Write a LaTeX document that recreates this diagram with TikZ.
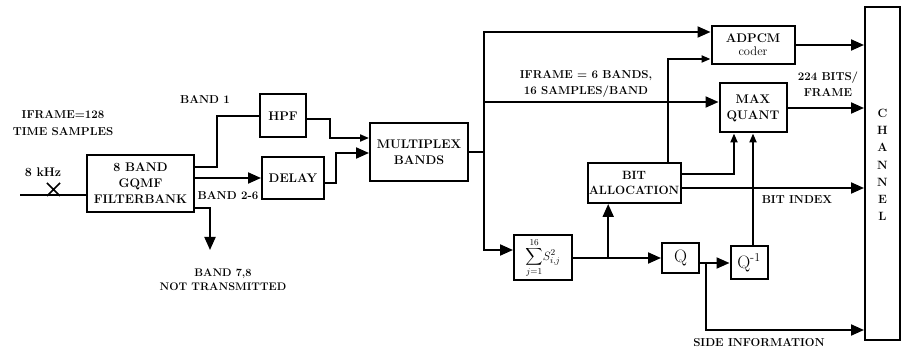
\documentclass[tikz,border=0pt]{standalone}
\usepackage{amsmath}
\usetikzlibrary{arrows.meta,calc}
\begin{document}
\begin{tikzpicture}[x=1pt,y=-1pt,
  line width=2pt,
  blk/.style={draw,line width=2pt,inner sep=0pt,align=center,font=\bfseries\fontsize{12.5}{16}\selectfont},
  lbl/.style={inner sep=0pt,align=center,font=\bfseries\fontsize{11.5}{14.5}\selectfont},
  big/.style={-{Triangle[length=13pt,width=11pt]}},
  sml/.style={-{Triangle[length=9pt,width=7pt]}}]
\useasboundingbox (0,0) rectangle (902,352);
% blocks
\node[blk,minimum width=107pt,minimum height=57pt] (fb) at (140.5,183.5) {8 BAND\\GQMF\\FILTERBANK};
\node[blk,minimum width=46pt,minimum height=43pt] (hpf) at (283,116) {HPF};
\node[blk,minimum width=62pt,minimum height=42pt] (delay) at (293,178) {DELAY};
\node[blk,minimum width=98pt,minimum height=58pt] (mux) at (419,152) {MULTIPLEX\\BANDS};
\node[blk,minimum width=83pt,minimum height=38pt] (adpcm) at (753,45) {ADPCM\\[-3pt]{\mdseries\fontsize{12.5}{13}\selectfont coder}};
\node[blk,minimum width=67pt,minimum height=49pt] (mq) at (753,108) {MAX\\QUANT};
\node[blk,minimum width=58pt,minimum height=45pt] (sum) at (543,258) {\fontsize{13}{12}\selectfont$\displaystyle\sum_{j=1}^{16}\! S_{i,j}^{2}$};
\node[blk,minimum width=93pt,minimum height=40pt,font=\bfseries\fontsize{12}{15}\selectfont] (ba) at (634,183) {BIT\\ALLOCATION};
\node[blk,minimum width=37pt,minimum height=30pt,font=\fontsize{18}{18}\selectfont] (q) at (680.5,258) {Q};
\node[blk,minimum width=37pt,minimum height=33pt,font=\fontsize{18}{18}\selectfont] (qi) at (749,263) {Q$^{\text{-}1}$};
\node[blk,minimum width=35pt,minimum height=333pt] (ch) at (882.5,173.5) {};
\node[lbl,font=\bfseries\fontsize{12}{17.2}\selectfont] (chtxt) at (882.5,165) {C\\H\\A\\N\\N\\E\\L};
% labels
\node[lbl,font=\bfseries\fontsize{11.5}{17}\selectfont] (l1) at (63,123) {IFRAME=128\\TIME SAMPLES};
\node[lbl,font=\bfseries\fontsize{12.5}{14}\selectfont] (l2) at (43,172) {8 kHz};
\node[lbl] (l3) at (205,99) {BAND 1};
\node[lbl] (l4) at (228,196) {BAND 2-6};
\node[lbl,font=\bfseries\fontsize{11}{14}\selectfont] (l5) at (223,280) {BAND 7,8\\NOT TRANSMITTED};
\node[lbl,font=\bfseries\fontsize{11.5}{16}\selectfont] (l6) at (586,84) {IFRAME = 6 BANDS,\\16 SAMPLES/BAND};
\node[lbl,font=\bfseries\fontsize{11.5}{16}\selectfont] (l7) at (828,84) {224 BITS/\\FRAME};
\node[lbl] (l8) at (797,200) {BIT INDEX};
\node[lbl] (l9) at (759,343) {SIDE INFORMATION};
% input
\coordinate (in) at (20,195);
\draw (in) -- (fb.west |- in);
\draw[line width=1.6pt] (47,183) -- (60,196) (60,183) -- (47,196);
% filterbank outputs
\draw ([yshift=16.5pt]fb.east) -- ++(22,0) |- (hpf.west);
\draw[big] (fb.east |- delay.west) -- (delay.west);
\draw[big] ([yshift=-24.5pt]fb.east) -- ++(15,0) -- ++(0,42);
% into multiplex
\draw[sml] ([yshift=-3pt]hpf.east) -- ++(23,0) |- ([yshift=14pt]mux.west);
\draw[big] ([yshift=-5pt]delay.east) -- ++(11,0) |- ([yshift=-1pt]mux.west);
% multiplex out
\coordinate (v) at ($(mux.east)+(15,0)$);
\draw (mux.east) -- (v);
\draw[big] (v) |- ([yshift=13pt]adpcm.west);
\draw[big] (v) |- ([yshift=8pt]sum.west);
\coordinate (mqin) at ([yshift=6pt]mq.west);
\draw[big] (v |- mqin) -- (mqin);
% sum out
\coordinate (j2) at ($(sum.east)!0.4!(q.west)$);
\draw[big] (sum.east) -- (q.west);
\draw[big] (j2) -- (j2 |- ba.south);
% bit allocation outputs
\draw[sml] ([xshift=34pt]ba.north) |- ([yshift=-14pt]adpcm.west);
\draw[sml] ([yshift=9pt]ba.east) -| ([xshift=-19pt]mq.south);
\coordinate (bi) at ([yshift=-5pt]ba.east);
\draw[big] (bi) -- (bi -| ch.west);
% Q path
\draw[big] (q.east |- qi.west) -- (qi.west);
\coordinate (j3) at ([xshift=6pt]q.east |- qi.west);
\coordinate (sideend) at (ch.west |- 0,330);
\draw[big] (j3) |- (sideend);
\draw[sml] ([xshift=4pt]qi.north) -- (mq.south);
% to channel
\draw[big] (mq.east) -- (mq.east -| ch.west);
\draw[big] (adpcm.east) -- (adpcm.east -| ch.west);
\end{tikzpicture}
\end{document}
